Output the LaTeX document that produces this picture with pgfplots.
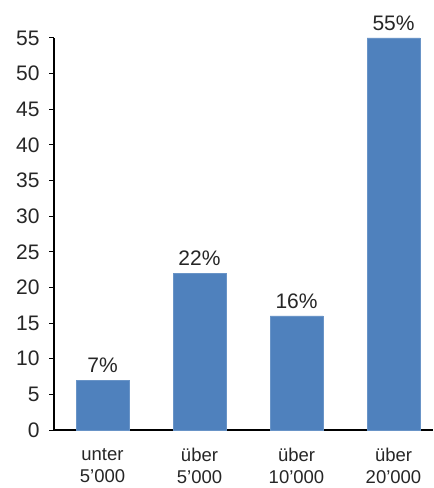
\documentclass[border=0pt]{standalone}
\usepackage{fontspec}
\setmainfont{Liberation Sans}
\usepackage{pgfplots}
\pgfplotsset{compat=1.18}
\definecolor{barblue}{RGB}{79,129,189}
\definecolor{txt}{RGB}{38,38,38}
\begin{document}
\begin{tikzpicture}
\useasboundingbox (-54bp,-58bp) rectangle (380bp,430bp);
\begin{axis}[
  at={(0,0)}, anchor=south west,
  scale only axis,
  width=379bp, height=392bp,
  xmin=-0.5, xmax=3.407,
  ymin=0, ymax=55,
  ytick={0,5,...,55},
  xtick={0,1,2,3},
  xticklabels={{unter\\5’000},{über\\5’000},{über\\10’000},{über\\20’000}},
  axis lines*=left,
  axis line style={black, line width=1.2bp},
  tick align=outside,
  major tick length=5bp,
  ytick style={black, line width=1bp},
  xtick style={draw=none},
  /pgf/number format/assume math mode=true,
  yticklabel style={font=\fontsize{21bp}{25bp}\selectfont, text=txt, xshift=-6bp},
  xticklabel style={font=\fontsize{18.5bp}{22bp}\selectfont, text=txt, align=center, yshift=-10bp},
  ybar,
  bar width=0.546,
  nodes near coords={\pgfmathprintnumber{\pgfplotspointmeta}\%},
  every node near coord/.append style={font=\fontsize{21bp}{25bp}\selectfont, text=txt, yshift=4bp},
  clip=false,
]
\addplot[fill=barblue, draw=barblue!85!white] coordinates {(0,7) (1,22) (2,16) (3,55)};
\end{axis}
\end{tikzpicture}
\end{document}
